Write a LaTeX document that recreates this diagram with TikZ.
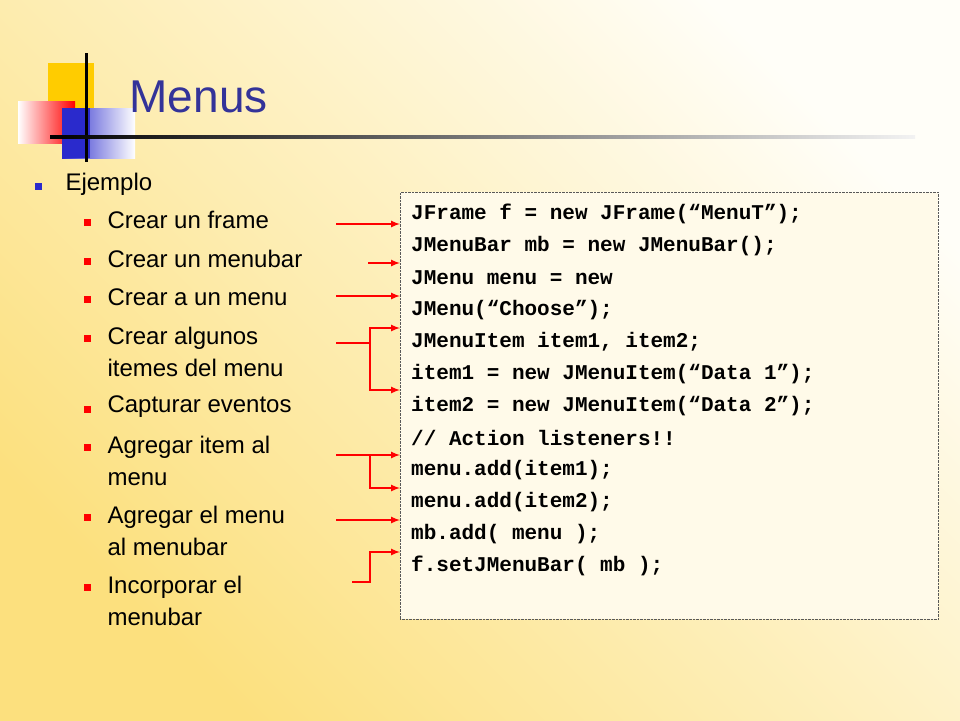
\documentclass[tikz,border=0pt]{standalone}
\usepackage{fontspec}
\setmainfont{Liberation Sans}
\newfontfamily\codefont{Liberation Mono}
\usetikzlibrary{calc}
\definecolor{titleblue}{HTML}{333399}
\definecolor{bgyellow}{HTML}{FCE07E}
\definecolor{bgwhite}{HTML}{FFFEF8}
\definecolor{logoyellow}{HTML}{FFCC00}
\definecolor{logoblue}{HTML}{2A2ACC}
\tikzset{
    itemtext/.style={
        anchor=west,
        align=left,
        font=\fontsize{24}{32}\selectfont
    },
    codeline/.style={
        anchor=west,
        inner sep=0pt,
        font=\codefont\bfseries\fontsize{21}{32}\selectfont
    },
    redbullet/.style={
        fill=red,
        minimum size=7pt,
        inner sep=0pt
    },
    bluebullet/.style={
        fill=logoblue,
        minimum size=7pt,
        inner sep=0pt
    },
    pointer/.style={
        draw=red,
        line width=2pt,
        -latex
    },
    stem/.style={
        draw=red,
        line width=2pt
    }
}
\begin{document}
\begin{tikzpicture}[x=1pt,y=-1pt]

    % background
    \useasboundingbox (0,0) rectangle (960,720);
    \shade[left color=bgwhite,right color=bgyellow,shading angle=-45] (0,0) rectangle (960,720);

    %% logo
    \fill[logoyellow] (48,63) rectangle (94,112);
    \shade[left color=white,right color=red] (18,101) rectangle (75,143);
    \shade[left color=logoblue,right color=logoblue!0] (62,108) rectangle (135,158);
    \fill[logoblue] (62,108) rectangle (90,158);
    \draw[line width=3pt] (86,53) -- (86,162);
    \shade[left color=black,right color=black!5] (50,135.5) rectangle (915,138.5);

    %% title
    \node (title) [anchor=west,text=titleblue,font=\fontsize{46}{50}\selectfont] at (126,97) {Menus};

    %% bullets
    \node (b0) [bluebullet] at (38,186) {};
    \node (t0) [itemtext] at (62,184) {Ejemplo};
    \node (b1) [redbullet] at (87,222) {};
    \node (t1) [itemtext] at (104,220) {Crear un frame};
    \node (b2) [redbullet] at (87,261) {};
    \node (t2) [itemtext] at (104,259) {Crear un menubar};
    \node (b3) [redbullet] at (87,299) {};
    \node (t3) [itemtext] at (104,297) {Crear a un menu};
    \node (b4) [redbullet] at (87,338) {};
    \node (t4) [itemtext] at (104,352) {Crear algunos\\itemes del menu};
    \node (b5) [redbullet] at (87,409) {};
    \node (t5) [itemtext] at (104,407) {Capturar eventos};
    \node (b6) [redbullet] at (87,447) {};
    \node (t6) [itemtext] at (104,461) {Agregar item al\\menu};
    \node (b7) [redbullet] at (87,517) {};
    \node (t7) [itemtext] at (104,531) {Agregar el menu\\al menubar};
    \node (b8) [redbullet] at (87,587) {};
    \node (t8) [itemtext] at (104,601) {Incorporar el\\menubar};

    %% code box
    \node (code) [draw=gray!70!black,densely dotted,fill=bgwhite!60!bgyellow!40,
        minimum width=538pt,minimum height=427pt,anchor=north west,inner sep=0pt] at (400,192) {};
    \foreach \txt [count=\i] in {%
        {JFrame f = new JFrame(“MenuT”);},
        {JMenuBar mb = new JMenuBar();},
        {JMenu menu = new},
        {JMenu(“Choose”);},
        {JMenuItem item1, item2;},
        {item1 = new JMenuItem(“Data 1”);},
        {item2 = new JMenuItem(“Data 2”);},
        {// Action listeners!!},
        {menu.add(item1);},
        {menu.add(item2);},
        {mb.add( menu );},
        {f.setJMenuBar( mb );}}
        \node (c\i) [codeline] at (411,182+32*\i) {\txt};

    %% arrows
    \coordinate (a1) at (336,224);
    \coordinate (a2) at (368,263);
    \coordinate (a3) at (336,296);
    \coordinate (a4) at (336,343);
    \coordinate (a5) at (336,455);
    \coordinate (a6) at (336,520);
    \coordinate (a7) at (352,582);
    \draw[pointer] (a1) -- (code.west |- a1);
    \draw[pointer] (a2) -- (code.west |- a2);
    \draw[pointer] (a3) -- (code.west |- a3);
    \draw[stem] (a4) -- (370,343);
    \draw[pointer] (370,343) |- (code.west |- 0,328);
    \draw[pointer] (370,343) |- (code.west |- 0,390);
    \draw[pointer] (a5) -- (code.west |- a5);
    \draw[pointer] (370,455) |- (code.west |- 0,488);
    \draw[pointer] (a6) -- (code.west |- a6);
    \draw[pointer] (a7) -- (370,582) |- (code.west |- 0,552);

\end{tikzpicture}
\end{document}
